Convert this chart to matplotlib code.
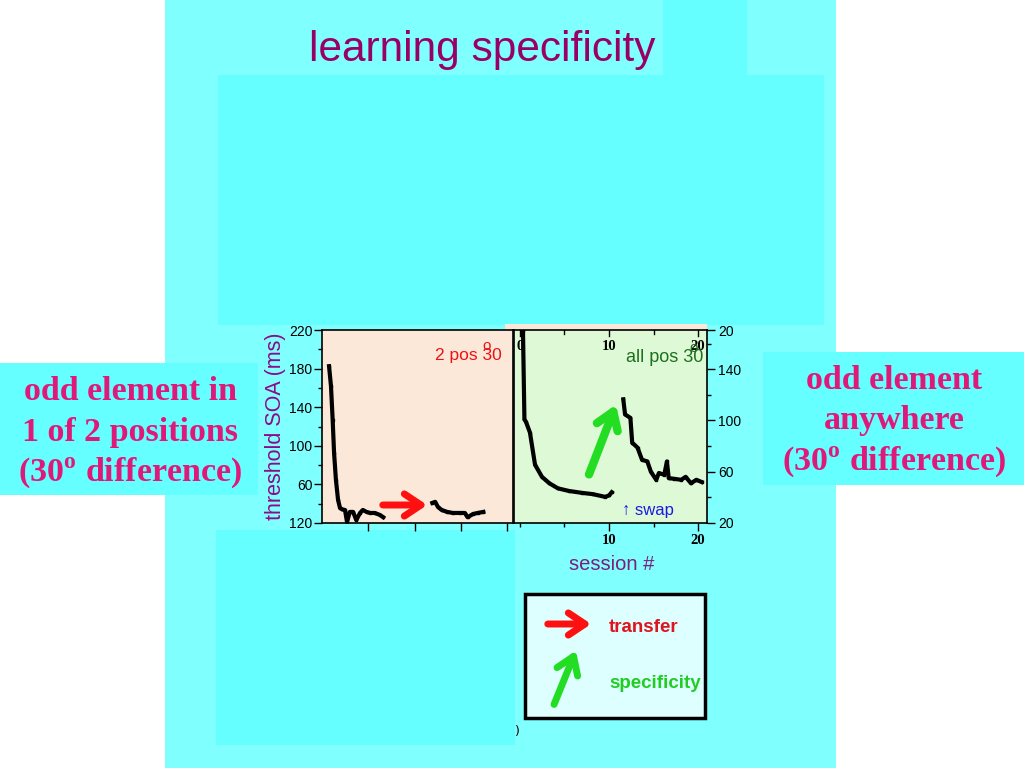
import matplotlib
matplotlib.use("Agg")
import matplotlib.pyplot as plt
from matplotlib.patches import Rectangle, FancyArrowPatch

# ---------------- data ----------------
left_seg1_x = [0.76, 0.97, 1.15, 1.3, 1.5, 1.73, 1.94, 2.2, 2.48, 2.7, 3.0, 3.35, 3.7, 4.1, 4.4, 4.8, 5.2, 5.7, 6.25, 6.6]
left_seg1_y = [182.5, 161.7, 127, 93, 64.8, 44, 35.6, 34, 33.5, 21, 31.5, 31.5, 23, 30.4, 33.5, 31.5, 30.4, 30.4, 28.3, 26]
left_seg2_x = [11.9, 12.2, 12.5, 12.9, 13.5, 14.1, 14.9, 15.4, 15.7, 16.3, 16.8, 17.4]
left_seg2_y = [40.8, 41.9, 36.7, 33.5, 31.5, 30.4, 30.4, 30.4, 26, 29.4, 30.4, 31.5]

right_seg1_x = [0.34, 0.5, 0.67, 1.12, 1.69, 2.47, 3.3, 4.27, 5.5, 6.97, 8.2, 9.55, 10.0, 10.3]
right_seg1_y = [170, 100.8, 99, 90.6, 65.5, 56, 51, 47, 45, 43.5, 42.5, 40.4, 41.5, 44]
right_seg2_x = [11.6, 11.8, 12.4, 12.6, 13.2, 13.7, 14.3, 14.7, 15.3, 15.6, 16.2, 16.5, 16.7, 17.3, 18.1, 18.6, 19.2, 19.8, 20.4]
right_seg2_y = [116.5, 104.7, 102, 82.7, 78.8, 69.4, 68, 60, 53.7, 59, 57.6, 68, 55, 54.5, 53.7, 56, 51, 53.7, 52]

left_yticks = [20, 60, 100, 140, 180, 220]
left_yticklabels = ["120", "60", "100", "140", "180", "220"]
right_yticks = [20, 60, 100, 140, 170.6]
right_yticklabels = ["20", "60", "100", "140", "20"]
right_xticks_bottom = [10, 20]
right_xticks_top = [0, 10, 20]

title = "learning specificity"
left_box_lines = ["odd element in", "1 of 2 positions", r"(30$^{\mathbf{o}}$ difference)"]
right_box_lines = ["odd element", "anywhere", r"(30$^{\mathbf{o}}$ difference)"]

# ---------------- figure ----------------
W, H = 1024, 768
plt.rcParams['mathtext.fontset'] = 'custom'
plt.rcParams['mathtext.rm'] = 'Liberation Serif:bold'
plt.rcParams['mathtext.bf'] = 'Liberation Serif:bold'
fig = plt.figure(figsize=(W / 100, H / 100), dpi=100)
fig.patch.set_facecolor('white')

def R(x0, y0, x1, y1, fc, ec='none', lw=0, z=-1):
    fig.add_artist(Rectangle((x0 / W, 1 - y1 / H), (x1 - x0) / W, (y1 - y0) / H,
                             transform=fig.transFigure, facecolor=fc, edgecolor=ec,
                             linewidth=lw, zorder=z))

def T(x, y, s, **kw):
    return fig.text(x / W, 1 - y / H, s, **kw)

def A(x0, y0, x1, y1, color, lw=5, hl=0.6, hw=0.4):
    fig.add_artist(FancyArrowPatch(
        (x0 / W, 1 - y0 / H), (x1 / W, 1 - y1 / H), transform=fig.transFigure,
        arrowstyle=f'->,head_length={hl},head_width={hw}', color=color, lw=lw,
        mutation_scale=20, zorder=5))

CYAN = '#80FFFF'
CYAN2 = '#66FFFF'
R(165, 0, 836, 768, CYAN, z=-3)
R(663, 0, 747, 75, CYAN2, z=-2)
R(218, 75, 824, 325, CYAN2, z=-2)
R(216, 530, 515, 745, CYAN2, z=-2)
R(0, 363, 258, 495, CYAN2, z=-2)
R(763, 352, 1024, 485, CYAN2, z=-2)
R(505, 324, 707, 330, '#FCE8D8', z=-1)

T(482, 50, title, fontsize=30.5, color='#990066', family='Liberation Sans',
  ha='center', va='center')

PINK = '#E0187A'
for i, s in enumerate(left_box_lines):
    T(130, 391 + 41 * i, s, fontsize=24.5, color=PINK, family='Liberation Serif',
      weight='bold', ha='center', va='center')
for i, s in enumerate(right_box_lines):
    T(894, 380 + 41 * i, s, fontsize=24.5, color=PINK, family='Liberation Serif',
      weight='bold', ha='center', va='center')

# ---------------- left axes ----------------
axL = fig.add_axes([322 / W, 1 - 523 / H, 191 / W, 193 / H])
axL.set_facecolor('#FCE8D8')
axL.plot(left_seg1_x, left_seg1_y, color='black', lw=3, marker='s', ms=2)
axL.plot(left_seg2_x, left_seg2_y, color='black', lw=3, marker='s', ms=2)
axL.set_xlim(0, 20.6)
axL.set_ylim(20, 220)
axL.set_yticks(left_yticks)
axL.set_yticklabels(left_yticklabels, family='Liberation Sans', fontsize=10)
axL.set_yticks([40, 80, 120, 160, 200], minor=True)
axL.set_xticks([5, 10, 15, 20])
axL.set_xticklabels([])
axL.tick_params(axis='both', which='major', direction='out', length=6, width=1)
axL.tick_params(axis='both', which='minor', direction='out', length=3, width=1)
axL.tick_params(axis='y', pad=1)
for sp in axL.spines.values():
    sp.set_linewidth(1.2)
axL.set_ylabel("threshold SOA (ms)", fontsize=15.5, color='#8B0A8B',
               family='Liberation Sans')
axL.yaxis.set_label_coords(-0.19, 0.5)
axL.text(0.94, 0.87, "2 pos 30", transform=axL.transAxes, ha='right', va='center',
         color='#EE1111', fontsize=12.5, family='Liberation Sans')
axL.text(0.86, 0.915, "o", transform=axL.transAxes, ha='center', va='center',
         color='#EE1111', fontsize=11, family='Liberation Sans')

# ---------------- right axes ----------------
axR = fig.add_axes([514 / W, 1 - 523 / H, 193 / W, 193 / H])
axR.set_facecolor('#DDF9D5')
axR.plot(right_seg1_x, right_seg1_y, color='black', lw=3, marker='s', ms=2)
axR.plot(right_seg2_x, right_seg2_y, color='black', lw=3, marker='s', ms=2)
axR.set_xlim(-0.67, 21.0)
axR.set_ylim(20, 170.6)
axR.yaxis.tick_right()
axR.set_yticks(right_yticks)
axR.set_yticklabels(right_yticklabels, family='Liberation Sans', fontsize=10)
axR.set_yticks([40, 80, 120, 160], minor=True)
axR.set_xticks(right_xticks_bottom)
axR.set_xticklabels([str(v) for v in right_xticks_bottom], family='Liberation Serif',
                    weight='bold', fontsize=10.5)
axR.set_xticks([0, 5, 15], minor=True)
axR.tick_params(axis='both', which='major', direction='out', length=6, width=1, pad=2)
axR.tick_params(axis='y', which='minor', direction='out', length=3, width=1)
axR.tick_params(axis='x', which='minor', direction='out', length=3, width=1)
for sp in axR.spines.values():
    sp.set_linewidth(1.2)
for v in right_xticks_top:
    axR.text(v, 0.915, str(v), transform=axR.get_xaxis_transform(), ha='center',
             va='center', family='Liberation Serif', weight='bold', fontsize=10.5)
    axR.plot([v, v], [1.0, 0.97], transform=axR.get_xaxis_transform(), color='black', lw=1)
for v in [5, 15]:
    axR.plot([v, v], [1.0, 0.98], transform=axR.get_xaxis_transform(), color='black', lw=1)
axR.text(0.98, 0.855, "all pos 30", transform=axR.transAxes, ha='right', va='center',
         color='#1E701E', fontsize=13, family='Liberation Sans')
axR.text(0.93, 0.905, "o", transform=axR.transAxes, ha='center', va='center',
         color='#1E701E', fontsize=11, family='Liberation Sans')
axR.text(0.56, 0.065, "\u2191 swap", transform=axR.transAxes, ha='left', va='center',
         color='#1A1AE6', fontsize=12, family=['Liberation Sans', 'DejaVu Sans'])

T(612, 564, "session #", fontsize=14.5, color='#7B1F7F', family='Liberation Sans',
  ha='center', va='center')

# chart arrows
A(380, 505, 430, 505, '#FF1010', lw=5)
A(588, 477, 617, 402, '#22DD22', lw=6)

# legend box
R(525, 594, 705, 718, '#DDFFFF', ec='black', lw=2.5, z=3)
A(545, 624, 594, 624, '#FF1010', lw=5)
A(553, 707, 577, 648, '#22DD22', lw=5)
T(609, 627, "transfer", fontsize=13.5, color='#E0141E', weight='bold',
  family='Liberation Sans', ha='left', va='center', zorder=6)
T(609, 683, "specificity", fontsize=13.5, color='#22CC22', weight='bold',
  family='Liberation Sans', ha='left', va='center', zorder=6)
T(517, 731, ")", fontsize=9, color='black', ha='center', va='center')

fig.savefig("out.png", dpi=100, facecolor='white')
